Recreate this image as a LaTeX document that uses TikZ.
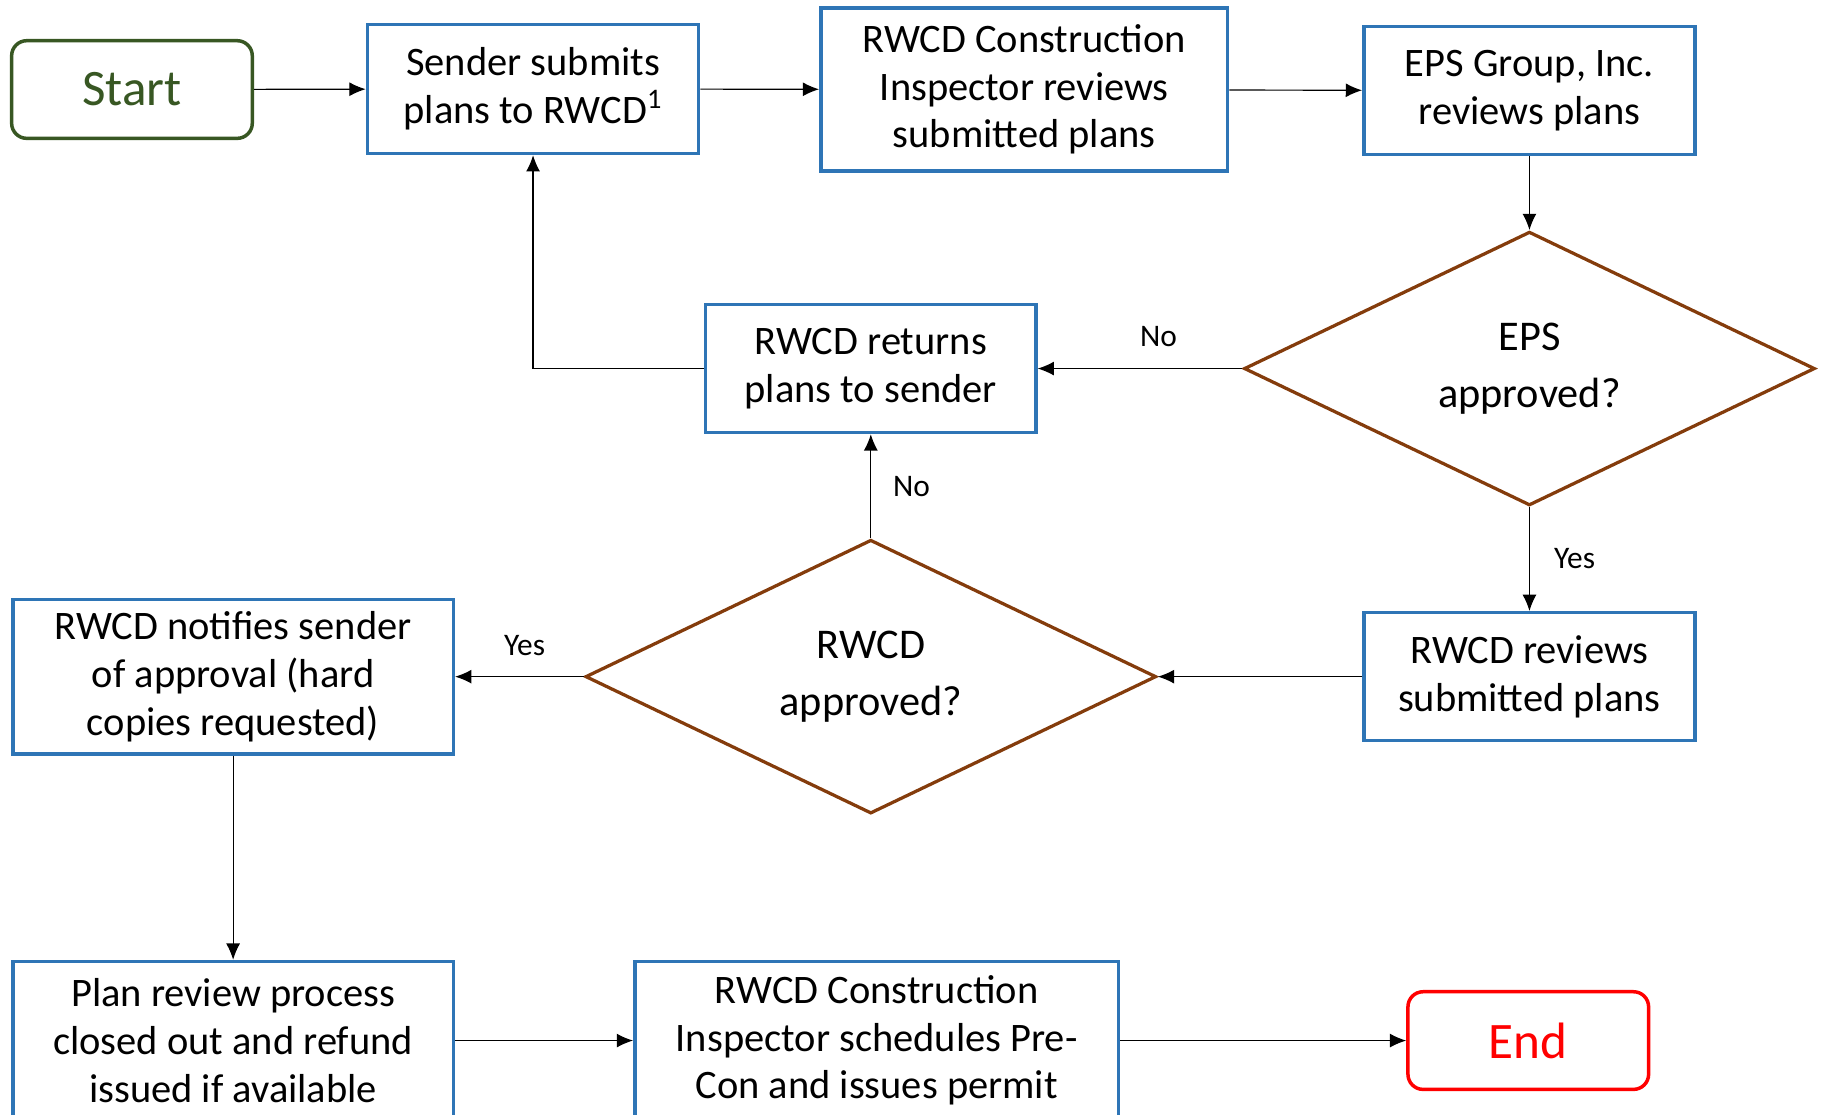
\documentclass[tikz,border=0pt]{standalone}
\usepackage{fontspec}
\setmainfont{Carlito}
\usetikzlibrary{shapes.geometric,arrows.meta,positioning}

\definecolor{boxblue}{HTML}{2E75B6}
\definecolor{askbrown}{HTML}{843C0C}
\definecolor{startgreen}{HTML}{385723}
\definecolor{endred}{HTML}{FF0000}

\tikzset{
  process/.style={draw=boxblue, line width=1.5pt, fill=white, align=center,
    inner sep=0pt, font=\fontsize{17.4}{20.5}\selectfont},
  decision/.style={diamond, draw=askbrown, line width=1.4pt, align=center,
    inner sep=0pt, minimum width=245.5pt, minimum height=116pt,
    font=\fontsize{18.2}{24.5}\selectfont},
  terminal/.style={draw, rounded corners=6.5pt, line width=1.5pt,
    minimum width=103.5pt, minimum height=42pt, font=\fontsize{22}{26}\selectfont},
  flow/.style={-{Latex[length=7pt,width=6pt]}, line width=0.5pt},
  answer/.style={font=\fontsize{13.5}{16}\selectfont}
}

\begin{document}
\begin{tikzpicture}[x=0.5pt,y=-0.5pt]
\useasboundingbox (0,0) rectangle (1568,959);

% top row
\node[terminal, draw=startgreen, text=startgreen] (start) at (113.5,77) {Start};
\node[process, minimum width=142.5pt, minimum height=55.5pt] (sender) at (458.5,76.5)
  {Sender submits\\plans to RWCD\textsuperscript{1}};
\node[process, minimum width=175pt, minimum height=70pt] (inspect) at (881,77)
  {RWCD Construction\\Inspector reviews\\submitted plans};
\node[process, minimum width=142.5pt, minimum height=55pt] (epsgroup) at (1315.5,78)
  {EPS Group, Inc.\\reviews plans};

% middle
\node[decision] (epsok) at (1315.5,317) {EPS\\approved?};
\node[process, minimum width=142pt, minimum height=55pt] (returns) at (749,317)
  {RWCD returns\\plans to sender};
\node[process, minimum width=142.5pt, minimum height=55pt] (reviews) at (1315.5,582)
  {RWCD reviews\\submitted plans};
\node[decision] (rwcdok) at (749,582) {RWCD\\approved?};
\node[process, minimum width=189.5pt, minimum height=66.5pt] (notify) at (200.5,582)
  {RWCD notifies sender\\of approval (hard\\copies requested)};

% bottom row
\node[process, minimum width=189.5pt, minimum height=68pt] (closeout) at (200.5,895)
  {Plan review process\\closed out and refund\\issued if available};
\node[process, minimum width=208pt, minimum height=68pt] (permit) at (754,895)
  {RWCD Construction\\Inspector schedules Pre-\\Con and issues permit};
\node[terminal, draw=endred, text=endred] (finish) at (1314.5,895) {End};

% connectors
\draw[flow] (start) -- (sender);
\draw[flow] (sender) -- (inspect);
\draw[flow] (inspect) -- (epsgroup);
\draw[flow] (epsgroup) -- (epsok);
\draw[flow] (epsok.west) -- node[answer, above=6pt, pos=0.41] {No} (returns.east);
\draw[flow] (returns.west) -| (sender.south);
\draw[flow] (epsok.south) -- node[answer, right=7pt] {Yes} (reviews.north);
\draw[flow] (reviews.west) -- (rwcdok.east);
\draw[flow] (rwcdok.north) -- node[answer, right=6pt] {No} (returns.south);
\draw[flow] (rwcdok.west) -- node[answer, above=5.5pt, pos=0.46] {Yes} (notify.east);
\draw[flow] (notify) -- (closeout);
\draw[flow] (closeout) -- (permit);
\draw[flow] (permit) -- (finish);
\end{tikzpicture}
\end{document}
